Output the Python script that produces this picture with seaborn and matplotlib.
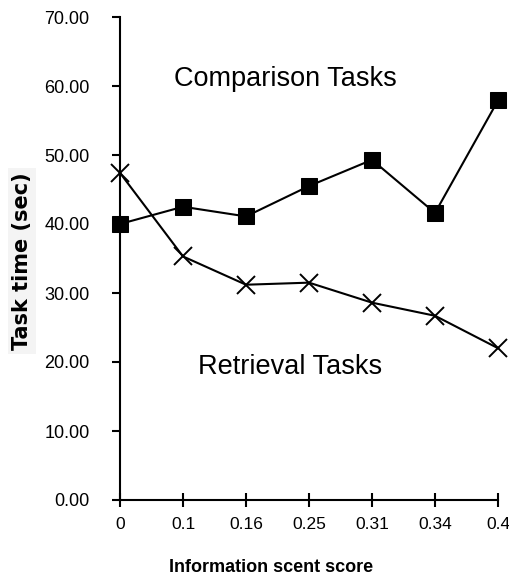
import matplotlib
matplotlib.use("Agg")
import matplotlib.pyplot as plt
import seaborn as sns
import pandas as pd

# 数据
scent_labels = ["0", "0.1", "0.16", "0.25", "0.31", "0.34", "0.4"]
comparison_time = [40.0, 42.5, 41.1, 45.5, 49.3, 41.6, 57.9]
retrieval_time = [47.4, 35.3, 31.2, 31.5, 28.6, 26.7, 22.0]
y_ticks = [0, 10, 20, 30, 40, 50, 60, 70]

sns.set_theme(style="ticks")
plt.rcParams['font.family'] = ['Liberation Sans', 'DejaVu Sans']
plt.rcParams['text.color'] = 'black'

df = pd.DataFrame({
    'pos': list(range(len(scent_labels))),
    'comparison': comparison_time,
    'retrieval': retrieval_time,
})

fig = plt.figure(figsize=(5.09, 5.79), dpi=100)
ax = fig.add_axes([120 / 509, 1 - 500 / 579, 378 / 509, 483 / 579])

sns.lineplot(data=df, x='pos', y='comparison', ax=ax, color='black', linewidth=1.5,
             marker='s', markersize=11.5, markeredgecolor='black', markerfacecolor='black',
             clip_on=False)
sns.lineplot(data=df, x='pos', y='retrieval', ax=ax, color='black', linewidth=1.5,
             marker='x', markersize=13, markeredgewidth=1.4, markeredgecolor='black',
             clip_on=False)

ax.set_xlim(0, len(scent_labels) - 1)
ax.set_ylim(0, 70)
ax.set_xticks(range(len(scent_labels)))
ax.set_xticklabels(scent_labels)
ax.set_yticks(y_ticks)
ax.set_yticklabels([f"{v:.2f}" for v in y_ticks])

for side in ['top', 'right']:
    ax.spines[side].set_visible(False)
for side in ['left', 'bottom']:
    ax.spines[side].set_linewidth(1.5)
    ax.spines[side].set_color('black')

ax.tick_params(axis='y', direction='out', length=6, width=1.5, pad=16, labelsize=13,
               colors='black')
ax.tick_params(axis='x', direction='inout', length=10, width=1.5, pad=7, labelsize=12.5,
               colors='black')
ax.set_xlabel('')
ax.set_ylabel('')

# 标注
ax.text(2.63, 61.0, 'Comparison Tasks', fontsize=19.5, ha='center', va='center',
        color='black')
ax.text(2.7, 19.3, 'Retrieval Tasks', fontsize=19.5, ha='center', va='center',
        color='black')

fig.text(271 / 509, 1 - 568 / 579, 'Information scent score', fontsize=13,
         fontweight='bold', ha='center', va='center', color='black')
fig.text(22 / 509, 1 - 261 / 579, 'Task time (sec)', fontsize=15, fontweight='bold',
         family='DejaVu Sans', rotation=90, ha='center', va='center', color='black',
         bbox=dict(facecolor='#f4f4f4', edgecolor='none', pad=3))

fig.savefig('out.png', dpi=100, facecolor='white')
